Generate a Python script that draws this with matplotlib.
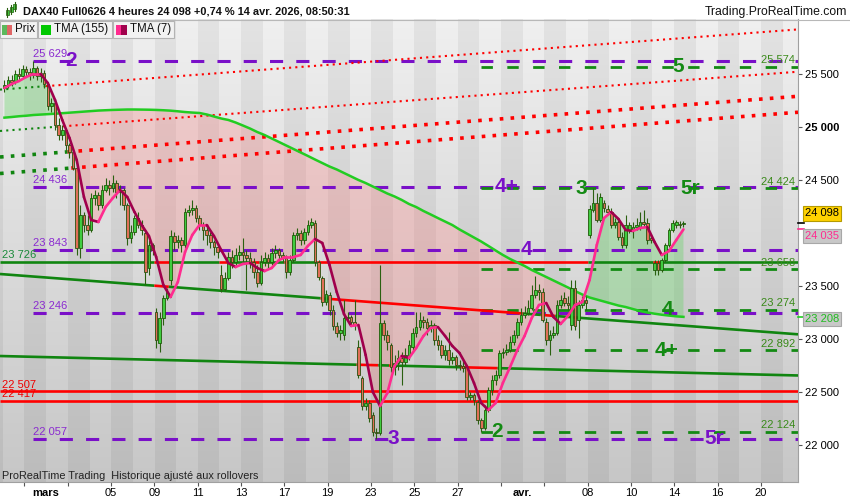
import numpy as np
import matplotlib
matplotlib.use('Agg')
import matplotlib.pyplot as plt
from matplotlib.collections import LineCollection
from matplotlib.lines import Line2D
from matplotlib.patches import Rectangle

plt.rcParams['font.family'] = ['Liberation Sans', 'DejaVu Sans']

# ---------------- data (4-hour bars, 6 per trading day, from 26 Feb) ----------------
opens = [
    25371, 25400, 25447, 25428, 25504, 25485, 25551, 25522, 25494, 25560,
    25485, 25513, 25409, 25201, 25229, 25021, 24927, 24974, 24832, 24766,
    24615, 23859, 24171, 24076, 24029, 24331, 24360, 24265, 24407, 24454,
    24426, 24473, 24388, 24407, 24265, 23953, 24009, 24143, 24076, 24001,
    23670, 23887, 23254, 22961, 23197, 23386, 23556, 23972, 23916, 23935,
    23887, 24199, 24218, 24237, 24143, 24076, 24029, 23982, 23916, 23868,
    23604, 23471, 23575, 23774, 23727, 23793, 23821, 23793, 23765, 23727,
    23632, 23528, 23727, 23765, 23727, 23812, 23840, 23793, 23765, 23632,
    23745, 23982, 24001, 23935, 24010, 24076, 24095, 23727, 23575, 23348,
    23415, 23273, 23122, 23056, 23037, 23197, 23206, 23159, 22923, 22630,
    22366, 22394, 22281, 22120, 22110, 23150, 23037, 22942, 22734, 22772,
    22819, 22781, 22848, 22923, 23056, 23112, 23178, 23159, 23103, 23131,
    22989, 22942, 22848, 22895, 22800, 22829, 22753, 22744, 22734, 22451,
    22470, 22403, 22233, 22158, 22328, 22517, 22611, 22659, 22866, 22876,
    22895, 22970, 23037, 23159, 23225, 23245, 23292, 23415, 23462, 23443,
    23159, 22989, 23037, 23056, 23320, 23386, 23339, 23131, 23481, 23178,
    23320, 23367, 23982, 24218, 24284, 24124, 24284, 24227, 24199, 24076,
    24105, 23963, 23887, 24029, 24029, 24057, 24057, 24105, 24095, 23953,
    23651, 23717, 23651, 23745, 23887, 24029, 24076, 24086, 24086,
]
highs = [
    25447, 25485, 25494, 25541, 25560, 25589, 25579, 25560, 25629, 25579,
    25560, 25541, 25428, 25277, 25258, 25088, 25021, 24993, 24851, 24785,
    24643, 24265, 24199, 24171, 24379, 24407, 24388, 24454, 24520, 24502,
    24549, 24502, 24454, 24426, 24284, 24076, 24171, 24199, 24124, 24029,
    23935, 23906, 23292, 23254, 23415, 23481, 24029, 24010, 23982, 23963,
    24237, 24265, 24313, 24265, 24171, 24105, 24057, 24010, 23935, 23887,
    23698, 23632, 23821, 23840, 23859, 23887, 23953, 23840, 23821, 23765,
    23698, 23793, 23821, 23802, 23859, 23887, 23859, 23821, 23793, 23793,
    24010, 24048, 24029, 24048, 24124, 24143, 24124, 23745, 23594, 23462,
    23443, 23320, 23159, 23131, 23367, 23254, 23225, 23367, 22989, 22649,
    22441, 22422, 22309, 22158, 23698, 23178, 23084, 22961, 22848, 22895,
    22876, 22914, 22989, 23103, 23254, 23254, 23216, 23197, 23178, 23150,
    23037, 22989, 22942, 23065, 22876, 22848, 22800, 22800, 22753, 22498,
    22488, 22422, 22252, 22375, 22545, 22659, 22706, 22895, 22914, 22951,
    23027, 23084, 23197, 23292, 23311, 23367, 23509, 23594, 23519, 23481,
    23197, 23084, 23122, 23367, 23415, 23443, 23405, 23556, 23556, 23367,
    23405, 23405, 24265, 24426, 24379, 24379, 24313, 24265, 24237, 24143,
    24143, 24010, 24171, 24105, 24105, 24143, 24199, 24218, 24143, 23991,
    23745, 23745, 23765, 23906, 24048, 24124, 24124, 24114, 24114,
]
lows = [
    25333, 25371, 25390, 25409, 25447, 25466, 25485, 25447, 25466, 25447,
    25428, 25371, 25163, 25144, 24974, 24880, 24880, 24785, 24710, 24596,
    23793, 23765, 24009, 23982, 24009, 24265, 24218, 24237, 24388, 24360,
    24388, 24331, 24265, 24218, 23887, 23906, 23982, 24048, 23982, 23509,
    23604, 23793, 22914, 22876, 23131, 23367, 23509, 23840, 23859, 23821,
    23859, 24161, 24171, 24105, 24029, 23935, 23887, 23859, 23793, 23765,
    23443, 23452, 23556, 23670, 23698, 23745, 23727, 23462, 23670, 23575,
    23490, 23509, 23689, 23670, 23698, 23765, 23745, 23727, 23575, 23604,
    23727, 23935, 23887, 23897, 23982, 24048, 23689, 23556, 23311, 23320,
    23225, 23084, 23018, 22989, 22989, 23159, 23122, 23084, 22630, 22328,
    22328, 22214, 22082, 22057, 22092, 22989, 22895, 22687, 22659, 22706,
    22564, 22753, 22800, 22895, 23018, 23084, 23103, 23037, 23065, 22942,
    22895, 22819, 22800, 22753, 22763, 22706, 22706, 22687, 22422, 22422,
    22375, 22195, 22124, 22139, 22309, 22470, 22564, 22630, 22819, 22848,
    22876, 22942, 23008, 23131, 23197, 23225, 23273, 23386, 23367, 23159,
    22942, 22848, 23008, 23037, 23292, 23311, 23273, 23084, 23084, 23008,
    23292, 23273, 23953, 24199, 24105, 24105, 24199, 24171, 24048, 24048,
    23935, 23859, 23859, 24001, 23953, 24029, 24029, 24057, 23897, 23906,
    23604, 23604, 23632, 23727, 23868, 24010, 24048, 24048, 24057,
]
closes = [
    25400, 25447, 25428, 25504, 25485, 25551, 25522, 25494, 25560, 25485,
    25513, 25409, 25201, 25229, 25021, 24927, 24974, 24832, 24766, 24615,
    23859, 24171, 24076, 24029, 24331, 24360, 24265, 24407, 24454, 24426,
    24473, 24388, 24407, 24265, 23953, 24009, 24143, 24076, 24029, 23632,
    23887, 23840, 22989, 23197, 23386, 23443, 23972, 23916, 23935, 23887,
    24199, 24218, 24237, 24143, 24076, 24029, 23982, 23916, 23868, 23821,
    23471, 23575, 23774, 23727, 23793, 23821, 23793, 23765, 23727, 23632,
    23528, 23727, 23765, 23727, 23812, 23840, 23793, 23765, 23632, 23745,
    23982, 24001, 23935, 24010, 24076, 24105, 23727, 23585, 23348, 23424,
    23273, 23122, 23056, 23084, 23197, 23206, 23159, 23131, 22659, 22366,
    22394, 22252, 22120, 22110, 23150, 23037, 22970, 22734, 22772, 22819,
    22781, 22848, 22942, 23056, 23112, 23178, 23159, 23103, 23131, 22989,
    22942, 22848, 22895, 22800, 22829, 22753, 22744, 22725, 22451, 22470,
    22422, 22233, 22158, 22328, 22517, 22611, 22659, 22866, 22876, 22895,
    22970, 23037, 23159, 23225, 23245, 23292, 23415, 23462, 23443, 23178,
    22989, 23037, 23056, 23320, 23367, 23339, 23320, 23481, 23122, 23320,
    23367, 23339, 24227, 24284, 24124, 24341, 24237, 24199, 24076, 24105,
    23963, 23887, 24076, 24076, 24057, 24076, 24105, 24086, 23935, 23935,
    23717, 23651, 23745, 23887, 24029, 24095, 24105, 24076, 24098,
]
# indicators read every second bar
tma7 = [
    25371, 25409, 25437, 25475, 25504, 25504, 25418, 25258, 25069, 24899,
    24691, 24341, 24124, 24105, 24246, 24331, 24407, 24341, 24199, 24076,
    23972, 23774, 23509, 23396, 23537, 23821, 23982, 24076, 24076, 23972,
    23840, 23717, 23679, 23708, 23717, 23670, 23641, 23670, 23745, 23774,
    23774, 23793, 23878, 23944, 23906, 23698, 23443, 23235, 23122, 23131,
    22848, 22498, 22365, 22488, 22744, 22838, 22819, 22914, 23027, 23103,
    23112, 23027, 22933, 22866, 22744, 22583, 22394, 22328, 22394, 22583,
    22734, 22895, 23027, 23197, 23320, 23339, 23207, 23141, 23216, 23320,
    23348, 23556, 23887, 24142, 24199, 24133, 24029, 24020, 24048, 24057,
    23916, 23793, 23830, 23934, 24035,
]
tma155 = [
    25091, 25097, 25104, 25109, 25116, 25120, 25124, 25128, 25133, 25138,
    25143, 25148, 25153, 25158, 25161, 25164, 25166, 25168, 25168, 25167,
    25166, 25164, 25161, 25157, 25151, 25144, 25139, 25135, 25121, 25102,
    25083, 25069, 25045, 25017, 24988, 24955, 24927, 24894, 24861, 24828,
    24795, 24762, 24729, 24695, 24662, 24629, 24601, 24568, 24535, 24502,
    24473, 24440, 24407, 24374, 24346, 24313, 24275, 24246, 24209, 24176,
    24142, 24109, 24076, 24034, 23996, 23958, 23920, 23878, 23835, 23793,
    23755, 23722, 23689, 23651, 23618, 23585, 23552, 23519, 23486, 23452,
    23419, 23391, 23372, 23353, 23334, 23315, 23301, 23282, 23263, 23249,
    23238, 23228, 23220, 23213, 23208,
]
purple_levels = [25629, 24436, 23843, 23246, 22057]
green_levels = [25574, 24424, 23658, 23274, 22892, 22124]
purple_start_bar = 8
green_start_bar = 132
# trend lines: (price at left edge, price at right edge)
line_flat = (23726, 23726)
line_down1 = (23613, 23043)
line_down2 = (22838, 22654)
dotted_fine = [(25356, 25925), (24965, 25525)]
dotted_bold = [(24719, 25293), (24563, 25142)]
red_flat = [22507, 22417]
ytick_vals = [22000, 22500, 23000, 23500, 24500, 25000, 25500]
xtick_days = [-1, 1, 3, 5, 7, 9, 11, 13, 15, 17, 19, 21, 23, 25, 27, 29, 31, 33]
xtick_labels = ['', '', '05', '09', '11', '13', '17', '19', '23', '25', '27', '', '',
                '08', '10', '14', '16', '20']
month_days = [0, 22]
month_labels = ['mars', 'avr.']
last_price = 24098
last_tma7 = 24035
last_tma155 = 23208

# ---------------- geometry helpers ----------------
W, H = 850, 500
def px2d(px):
    return (px - 46.0) / 21.67
def py2p(py):
    return 26203 - 9.452 * py
def fx(px):
    return px / W
def fy(py):
    return 1 - py / H

X0, X1 = px2d(0), px2d(798)
Y0, Y1 = py2p(482), py2p(19)

n = len(closes)
o = np.array(opens, float); h = np.array(highs, float)
l = np.array(lows, float); c = np.array(closes, float)
bar_days = -2 + (np.arange(n) + 0.5) / 6.0
t_days = bar_days[::2]
tma7_a = np.array(tma7, float)
tma155_a = np.array(tma155, float)

fig = plt.figure(figsize=(8.5, 5), dpi=100, facecolor='white')
ax = fig.add_axes([0, 18 / H, 798 / W, 463 / H])
ax.set_xlim(X0, X1)
ax.set_ylim(Y0, Y1)

# background: striped days with vertical gradient
xs = np.linspace(X0, X1, 1600)
light = (np.floor(xs).astype(int) % 2 == 0)
tt = np.linspace(0, 1, 300)[:, None]
lt = 0.94 - 0.16 * tt
dk = 0.89 - 0.155 * tt
img = np.where(light[None, :], lt, dk)
img = np.repeat(img[:, :, None], 3, axis=2)
ax.imshow(img, extent=[X0, X1, Y0, Y1], aspect='auto', origin='upper',
          zorder=0, interpolation='nearest')

# fill between TMAs
ax.fill_between(t_days, tma7_a, tma155_a, where=tma7_a >= tma155_a, interpolate=True,
                color='#5fd35f', alpha=0.35, lw=0, zorder=1)
ax.fill_between(t_days, tma7_a, tma155_a, where=tma7_a <= tma155_a, interpolate=True,
                color='#ff7b7b', alpha=0.28, lw=0, zorder=1)

PURPLE = '#7a10c8'
GREEN_D = '#138a13'
GREEN_L = '#108510'
RED = '#ff0000'

# level dashed lines
for lv in purple_levels:
    ax.plot([bar_days[purple_start_bar], X1], [lv, lv], color=PURPLE, lw=2.2,
            ls=(0, (4.3, 4.3)), dash_capstyle='butt', zorder=2)
for lv in green_levels:
    ax.plot([bar_days[green_start_bar], X1], [lv, lv], color=GREEN_D, lw=2.0,
            ls=(0, (4.1, 5.2)), dash_capstyle='butt', zorder=2)

edges = np.concatenate([[X0], (bar_days[:-1] + bar_days[1:]) / 2, [X1]])

def draw_line(p0, p1, ls='-', lw=1.9, fixed=None, z=3):
    def val(d):
        return p0 + (p1 - p0) * (d - X0) / (X1 - X0)
    kw = dict(lw=lw, ls=ls, zorder=z, solid_capstyle='butt', dash_capstyle='butt')
    if fixed is not None:
        ax.plot([X0, X1], [p0, p1], color=fixed, **kw)
        return
    above = c >= val(bar_days)
    start = 0
    for k in range(1, n + 1):
        if k == n or above[k] != above[start]:
            xa, xb = edges[start], edges[k]
            ax.plot([xa, xb], [val(xa), val(xb)],
                    color=GREEN_L if above[start] else RED, **kw)
            start = k

draw_line(*line_flat)
draw_line(*line_down1)
draw_line(*line_down2)
for p in red_flat:
    draw_line(p, p, fixed=RED)
for p0, p1 in dotted_fine:
    draw_line(p0, p1, ls=(0, (1, 2.0)), lw=1.5)
for p0, p1 in dotted_bold:
    draw_line(p0, p1, ls=(0, (1, 2.0)), lw=2.6)

# TMA155
ax.plot(t_days, tma155_a, color='#22cc22', lw=1.8, zorder=4)

# candles
up = c >= o
wick_col = '#2a6010'
ax.vlines(bar_days, l, h, color=wick_col, lw=0.8, zorder=5)
body_h = np.where(np.abs(c - o) < 4, 4, c - o)
ax.bar(bar_days[up], body_h[up], bottom=o[up], width=0.12, color='#40cc40',
       edgecolor='#1f5a08', linewidth=0.6, zorder=5.5)
ax.bar(bar_days[~up], body_h[~up], bottom=o[~up], width=0.12, color='#e07058',
       edgecolor='#2a5010', linewidth=0.6, zorder=5.5)

# TMA7 colored by slope
pts = np.column_stack([t_days, tma7_a])
segs = np.stack([pts[:-1], pts[1:]], axis=1)
cols = ['#ff2b8f' if tma7_a[k + 1] >= tma7_a[k] else '#a0004c' for k in range(len(tma7_a) - 1)]
ax.add_collection(LineCollection(segs, colors=cols, linewidths=1.9, zorder=6,
                                 capstyle='round'))

def fmt(v):
    return f"{int(v):,}".replace(',', ' ')

# small level labels
for lv in purple_levels:
    ax.annotate(fmt(lv), xy=(px2d(33), lv), xytext=(0, 2.6), textcoords='offset points',
                ha='left', va='baseline', fontsize=8, color='#8a2ad0', zorder=7)
for lv in green_levels:
    ax.annotate(fmt(lv), xy=(px2d(795), lv), xytext=(0, 2.6), textcoords='offset points',
                ha='right', va='baseline', fontsize=8, color='#3a8a1a', zorder=7)
ax.annotate(fmt(line_flat[0]), xy=(px2d(2), line_flat[0]), xytext=(0, 3),
            textcoords='offset points', ha='left', va='baseline', fontsize=8,
            color='#1a8a3a', zorder=7)
for lv in red_flat:
    ax.annotate(fmt(lv), xy=(px2d(2), lv), xytext=(0, 2.2), textcoords='offset points',
                ha='left', va='baseline', fontsize=8, color='#ee0000', zorder=7)

# big wave labels
big = [('2', 71, 25629, PURPLE), ('3', 393, 22057, PURPLE), ('4+', 507, 24436, PURPLE),
       ('4', 526, 23843, PURPLE), ('5r', 714, 22057, PURPLE),
       ('3', 581, 24424, GREEN_D), ('2', 497, 22124, GREEN_D), ('5', 678, 25574, GREEN_D),
       ('5r', 690, 24424, GREEN_D), ('4', 667, 23274, GREEN_D), ('4+', 667, 22892, GREEN_D)]
for txt, px, lv, col in big:
    ax.text(px2d(px), lv, txt, ha='center', va='center', fontsize=15,
            fontweight='bold', color=col, zorder=7)

# axes styling
for s in ['top', 'left']:
    ax.spines[s].set_visible(False)
ax.spines['right'].set_color('#a0a0a0')
ax.spines['bottom'].set_color('#a0a0a0')
ax.yaxis.tick_right()
ax.set_yticks(ytick_vals)
ax.set_yticklabels([fmt(v) for v in ytick_vals])
for lab in ax.get_yticklabels():
    if lab.get_text() == '25 000':
        lab.set_fontweight('bold')
ax.tick_params(axis='y', direction='out', length=3, width=0.8, pad=2, labelsize=8,
               colors='#555555', labelcolor='black')
ax.set_xticks(xtick_days)
ax.set_xticklabels(xtick_labels)
ax.tick_params(axis='x', direction='out', length=3, width=0.8, pad=1.5, labelsize=8,
               colors='#555555', labelcolor='black')
for d, lab in zip(month_days, month_labels):
    ax.text(d, -0.0238, lab, transform=ax.get_xaxis_transform(), ha='center', va='center',
            fontsize=8, fontweight='bold', color='black', clip_on=False)

# right-axis value boxes
fig.text(fx(805), fy(213.5), fmt(last_price), ha='left', va='center', fontsize=8,
         color='black', bbox=dict(boxstyle='square,pad=0.2', fc='#ffd200', ec='#b59a00', lw=0.8))
fig.text(fx(805), fy(236), fmt(last_tma7), ha='left', va='center', fontsize=8,
         color='#ff2b8f', bbox=dict(boxstyle='square,pad=0.2', fc='#c8c8c8', ec='#a8a8a8', lw=0.8))
fig.text(fx(805), fy(319), fmt(last_tma155), ha='left', va='center', fontsize=8,
         color='#22bb22', bbox=dict(boxstyle='square,pad=0.2', fc='#c8c8c8', ec='#a8a8a8', lw=0.8))
for yv, col in [(222.7, 'black'), (229.4, '#ff2b8f'), (316.9, '#22cc22')]:
    fig.add_artist(Line2D([fx(798), fx(804)], [fy(yv), fy(yv)], color=col, lw=1.2))

# header
fig.add_artist(Line2D([0, 1], [fy(19.5), fy(19.5)], color='#b8b8b8', lw=0.8))
for (cx, yb, yt, wl, wh) in [(7, 10, 15, 8, 17), (11, 7, 12, 5, 14), (15, 4, 9, 2, 11)]:
    fig.add_artist(Line2D([fx(cx), fx(cx)], [fy(wh), fy(wl)], color='#2a6010', lw=0.8))
    fig.add_artist(Rectangle((fx(cx - 1.5), fy(yt)), 3 / W, (yt - yb) / H,
                             transform=fig.transFigure, fc='#40cc40', ec='#1f5a08', lw=0.5))
fig.text(fx(23), fy(12), 'DAX40 Full0626 4 heures 24 098 +0,74 % 14 avr. 2026, 08:50:31',
         ha='left', va='center', fontsize=7.9, fontweight='bold', color='#111111')
fig.text(fx(847), fy(12), 'Trading.ProRealTime.com', ha='right', va='center',
         fontsize=8.8, color='#111111')

# legend boxes
boxes = [(0, 37), (38, 112), (113, 174)]
for x0b, x1b in boxes:
    fig.add_artist(Rectangle((fx(x0b), fy(38)), (x1b - x0b) / W, 17 / H,
                             transform=fig.transFigure, fc='#f2f2f2', ec='#b4b4b4', lw=0.8,
                             zorder=10))
def sq(x, w, col):
    fig.add_artist(Rectangle((fx(x), fy(35)), w / W, 10 / H, transform=fig.transFigure,
                             fc=col, ec='none', zorder=11))
sq(2, 5, '#5cb85c'); sq(7, 5, '#e06666')
sq(41, 10, '#00c800')
sq(116, 5, '#ff2b8f'); sq(121, 6, '#a0004c')
fig.text(fx(15), fy(29.5), 'Prix', ha='left', va='center', fontsize=8.3, color='#111', zorder=12)
fig.text(fx(54), fy(29.5), 'TMA (155)', ha='left', va='center', fontsize=8.3, color='#111', zorder=12)
fig.text(fx(130), fy(29.5), 'TMA (7)', ha='left', va='center', fontsize=8.3, color='#111', zorder=12)

# footer text inside chart
fig.text(fx(2), fy(476), 'ProRealTime Trading  Historique ajusté aux rollovers', ha='left',
         va='center', fontsize=7.8, color='#222222', zorder=12)

fig.savefig('out.png', dpi=100, facecolor='white')
